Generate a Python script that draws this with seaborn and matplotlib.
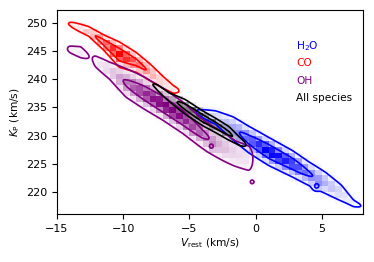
import numpy as np
import pandas as pd
import matplotlib
matplotlib.use("Agg")
import matplotlib.pyplot as plt
import seaborn as sns
from matplotlib.colors import LinearSegmentedColormap, to_rgb

# ---- ridge descriptions (V_rest, K_P centre, K_P spread, relative height)
h2o_v   = [-5.0, -4.4, -3.0, -1.7, -0.5, 1.0, 2.8, 4.0, 5.3, 6.5, 7.4, 7.9, 8.3]
h2o_kp  = [234.8, 234.2, 233.2, 231.3, 229.3, 227.2, 225.0, 223.3, 221.6, 219.8, 218.0, 217.6, 217.4]
h2o_sig = [0.6, 0.6, 0.77, 1.05, 1.08, 1.05, 1.03, 1.0, 1.0, 0.9, 0.5, 0.4, 0.4]
h2o_amp = [0.0, 0.07, 0.2, 0.4, 0.65, 1.0, 0.8, 0.55, 0.35, 0.2, 0.12, 0.07, 0.0]

co_v   = [-14.5, -14.0, -12.6, -11.5, -10.3, -9.0, -8.0, -7.0, -6.2, -5.5]
co_kp  = [250.1, 249.8, 248.5, 246.6, 244.4, 243.0, 241.3, 239.5, 238.2, 237.8]
co_sig = [0.4, 0.4, 0.45, 0.6, 0.95, 0.8, 0.75, 0.62, 0.5, 0.4]
co_amp = [0.0, 0.08, 0.35, 0.7, 1.0, 0.65, 0.45, 0.25, 0.15, 0.0]

oh_v   = [-14.5, -14.0, -13.2, -12.4, -12.1, -11.0, -9.8, -8.5, -7.0, -5.5, -4.0, -3.0, -1.5, -0.5, 0.0]
oh_kp  = [245.6, 245.3, 244.8, 243.8, 243.2, 241.5, 239.4, 237.7, 235.6, 233.2, 230.3, 228.8, 226.8, 226.0, 225.8]
oh_sig = [0.5, 0.6, 0.75, 0.6, 0.8, 0.9, 1.2, 1.25, 1.2, 1.2, 1.2, 1.3, 1.45, 1.6, 1.6]
oh_amp = [0.0, 0.1, 0.14, 0.04, 0.12, 0.25, 0.55, 0.8, 1.0, 0.9, 0.6, 0.4, 0.2, 0.15, 0.0]

all_v   = [-8.2, -7.6, -6.5, -5.3, -4.0, -3.0, -2.0, -1.2, -0.6]
all_kp  = [239.6, 238.9, 236.8, 235.1, 233.1, 231.8, 230.4, 229.0, 228.2]
all_sig = [0.4, 0.4, 0.42, 0.58, 0.55, 0.55, 0.56, 0.4, 0.3]
all_amp = [0.0, 0.08, 0.3, 0.75, 1.0, 0.85, 0.6, 0.3, 0.0]

# isolated small islands (V, Kp, height)
h2o_spots = [(4.6, 221.0, 0.6)]
oh_spots = [(-0.25, 221.8, 0.09), (-3.36, 228.0, 0.35)]

species = ["H$_2$O", "CO", "OH", "All species"]
colors = ["#0000ff", "#ff0000", "#800080", "#000000"]
levels = [0.06, 0.5]

x_ticks = [-15, -10, -5, 0, 5]
y_ticks = [220, 225, 230, 235, 240, 245, 250]

# fine evaluation grid
vv = np.arange(-15 + 0.05, 8.5, 0.1)
kk = np.arange(216 + 0.1, 253, 0.2)
V, K = np.meshgrid(vv, kk)


def density(rv, rk, rs, ra, spots=()):
    c = np.interp(V, rv, rk)
    s = np.interp(V, rv, rs)
    a = np.interp(V, rv, ra)
    d = a * np.exp(-0.5 * ((K - c) / s) ** 2)
    for (sv, sk, sa) in spots:
        d = d + sa * np.exp(-0.5 * (((V - sv) / 0.15) ** 2 + ((K - sk) / 0.35) ** 2))
    d[d < 0.004] = 0
    return d


dens = [
    density(h2o_v, h2o_kp, h2o_sig, h2o_amp, h2o_spots),
    density(co_v, co_kp, co_sig, co_amp),
    density(oh_v, oh_kp, oh_sig, oh_amp, oh_spots),
    density(all_v, all_kp, all_sig, all_amp),
]
max_alpha = [1.0, 1.0, 1.0, 0.9]

plt.rcParams["font.family"] = "DejaVu Sans"
plt.rcParams["font.size"] = 7.6
plt.rcParams["xtick.labelsize"] = 8
plt.rcParams["ytick.labelsize"] = 8
fig = plt.figure(figsize=(3.74, 2.62), dpi=100)
ax = fig.add_axes([0.152, 0.183, 0.818, 0.779])

ramp = np.linspace(0, 1, 12)
for d, col, ma in zip(dens, colors, max_alpha):
    r, g, b = to_rgb(col)
    if col == "#000000":
        r, g, b = 0.25, 0.25, 0.25
    cmap = LinearSegmentedColormap.from_list(
        "c", [(t, (r, g, b, ma * t ** 1.2)) for t in ramp])
    df = pd.DataFrame({"V": V.ravel(), "Kp": K.ravel(), "w": d.ravel()})
    df = df[df["w"] > 0]
    sns.histplot(data=df, x="V", y="Kp", weights="w", binwidth=(0.5, 1.0),
                 binrange=((-15, 8.5), (216, 253)), cmap=cmap, ax=ax)

for d, col in zip(dens, colors):
    ax.contour(V, K, d, levels=levels, colors=col, linewidths=1.2)

ax.set_xlim(-15, 8.1)
ax.set_ylim(216.1, 252.3)
ax.set_xticks(x_ticks)
ax.set_yticks(y_ticks)
ax.set_xlabel(r"$V_\mathrm{rest}$ (km/s)", labelpad=2)
ax.set_ylabel(r"$K_\mathrm{P}$ (km/s)", labelpad=3)

ty = [0.824, 0.738, 0.653, 0.567]
for lab, col, y in zip(species, colors, ty):
    ax.text(0.782, y, lab, color=col, transform=ax.transAxes, va="center", ha="left", fontsize=7.6)

fig.savefig("out.png", dpi=100)
